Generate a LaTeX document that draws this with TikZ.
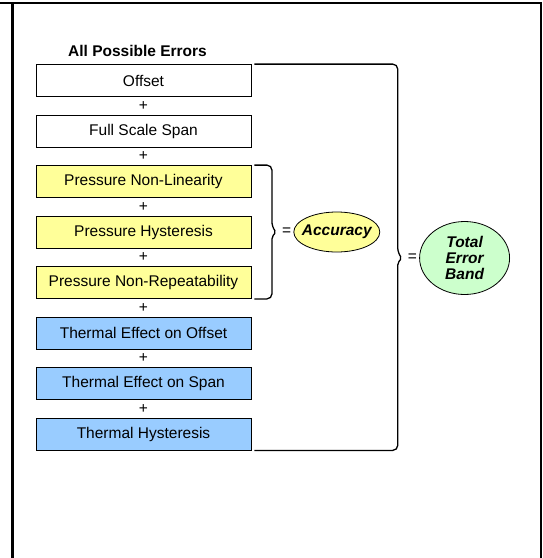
\documentclass[tikz,border=0pt]{standalone}
\usepackage{fontspec}
\setmainfont{Liberation Sans}
\usetikzlibrary{positioning,shapes.geometric}
\definecolor{presfill}{HTML}{FFFF99}
\definecolor{thermfill}{HTML}{99CCFF}
\definecolor{bandfill}{HTML}{CCFFCC}

\begin{document}
\begin{tikzpicture}[x=1pt, y=-1pt,
  font=\fontsize{15.5}{16}\selectfont,
  errbox/.style={draw, line width=0.8pt, minimum width=215pt, minimum height=32pt, inner sep=0pt},
  plus/.style={minimum height=17.3pt, inner sep=0pt},
  eq/.style={inner sep=2pt},
  oval/.style={ellipse, draw, line width=0.8pt, inner xsep=-5pt, inner ysep=0pt, font=\fontsize{15.5}{16}\selectfont\bfseries\itshape},
  brace/.style={draw, line width=1.3pt, rounded corners=5pt},
  frame/.style={line width=2.5pt}]

\useasboundingbox (0,0) rectangle (542,558);

\node[errbox] (offset) at (143.5,80.5) {Offset};
\node[inner sep=0pt, font=\fontsize{15.5}{16}\selectfont\bfseries] (heading) [above=7pt of offset, xshift=-6pt] {All Possible Errors};
\node[plus] (plus1) [below=0pt of offset] {+};
\node[errbox] (span) [below=0pt of plus1] {Full Scale Span};
\node[plus] (plus2) [below=0pt of span] {+};
\node[errbox, fill=presfill] (plin) [below=0pt of plus2] {Pressure Non-Linearity};
\node[plus] (plus3) [below=0pt of plin] {+};
\node[errbox, fill=presfill] (physt) [below=0pt of plus3] {Pressure Hysteresis};
\node[plus] (plus4) [below=0pt of physt] {+};
\node[errbox, fill=presfill] (prep) [below=0pt of plus4] {Pressure Non-Repeatability};
\node[plus] (plus5) [below=0pt of prep] {+};
\node[errbox, fill=thermfill] (toff) [below=0pt of plus5] {Thermal Effect on Offset};
\node[plus] (plus6) [below=0pt of toff] {+};
\node[errbox, fill=thermfill] (tspan) [below=0pt of plus6] {Thermal Effect on Span};
\node[plus] (plus7) [below=0pt of tspan] {+};
\node[errbox, fill=thermfill] (thyst) [below=0pt of plus7] {Thermal Hysteresis};

\node[oval, fill=presfill, minimum width=86pt, minimum height=40pt] (accuracy) [right=42pt of physt] {Accuracy};
\node[eq] (eqacc) [left=0pt of accuracy] {=};
\node[oval, fill=bandfill, minimum width=90pt, minimum height=73pt, align=center] (band) [right=39pt of accuracy, yshift=-26pt] {Total\\Error\\Band};
\node[eq] (eqband) [left=0pt of band] {=};

% braces
\draw[brace] ([xshift=3pt]plin.north east) -| ([xshift=-8pt,yshift=5pt]eqacc.west)
  [rounded corners=2pt] -- ([xshift=-4pt]eqacc.west) -- ([xshift=-8pt,yshift=-5pt]eqacc.west)
  [rounded corners=5pt] |- ([xshift=3pt]prep.south east);
\draw[brace] ([xshift=3pt]offset.north east) -| ([xshift=-8pt,yshift=5pt]eqband.west)
  [rounded corners=2pt] -- ([xshift=-4pt]eqband.west) -- ([xshift=-8pt,yshift=-5pt]eqband.west)
  [rounded corners=5pt] |- ([xshift=3pt]thyst.south east);

% frame
\draw[frame] (0,3) -- (541,3) -- (541,558);
\draw[frame] (12.5,3) -- (12.5,558);

\end{tikzpicture}
\end{document}
